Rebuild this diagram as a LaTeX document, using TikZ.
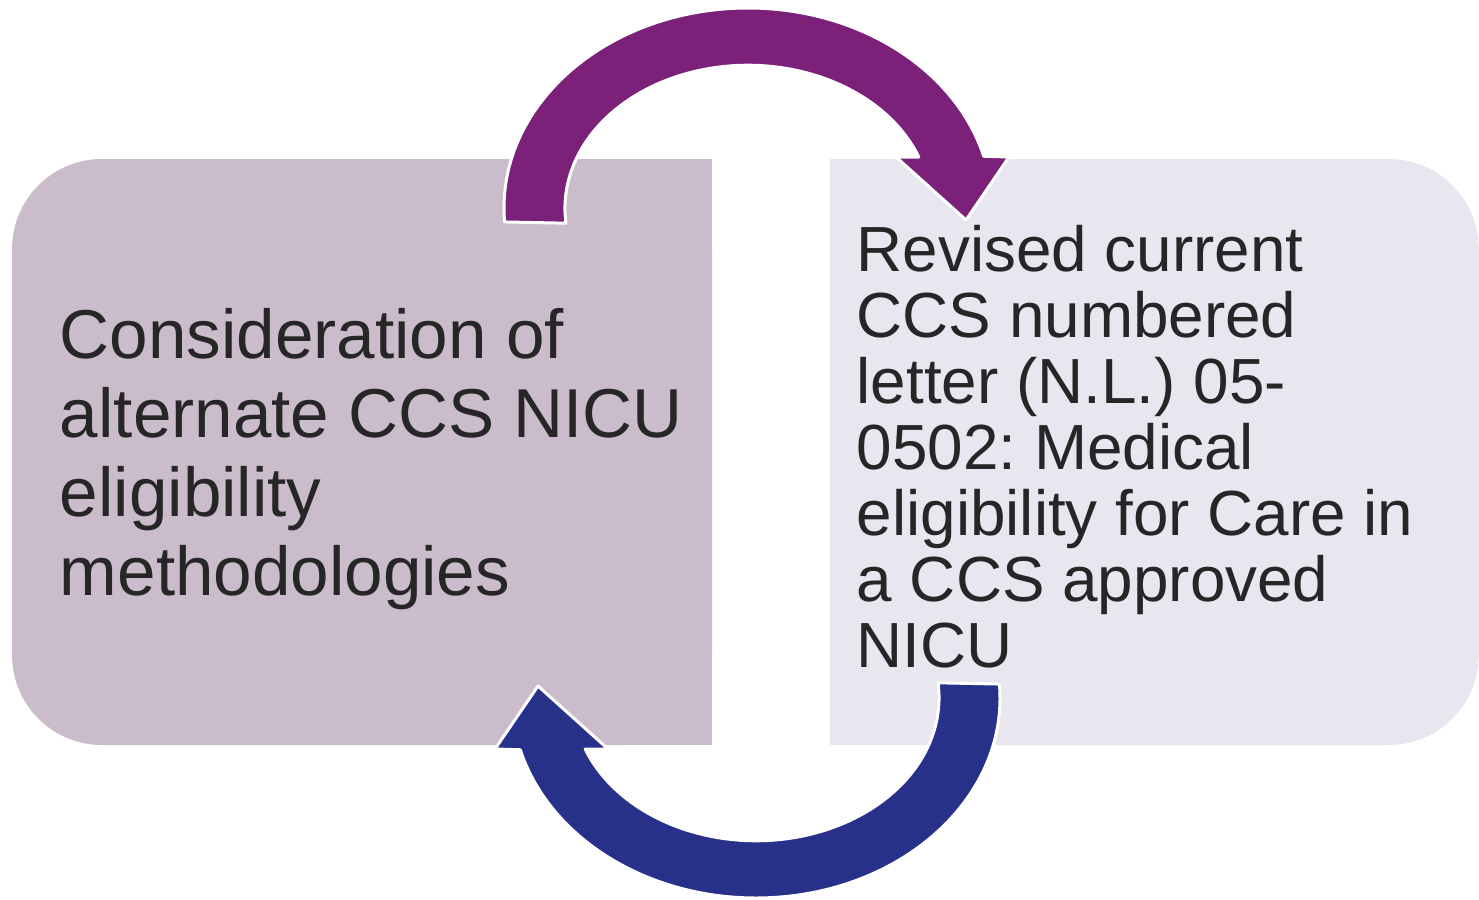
\documentclass[tikz,border=0pt]{standalone}
\usepackage{fontspec}
\setmainfont{Liberation Sans}
\usetikzlibrary{positioning}
\frenchspacing

\definecolor{purp}{HTML}{7B2179}
\definecolor{blu}{HTML}{283189}
\definecolor{mauve}{HTML}{CABCCB}
\definecolor{lilac}{HTML}{E8E6EE}
\definecolor{ink}{HTML}{262626}

\begin{document}
\begin{tikzpicture}[x=0.5pt, y=-0.5pt, inner sep=0pt,
    card/.style = {fill=#1, rounded corners=45pt, minimum height=293pt},
    txt/.style = {anchor=base west, align=left, text=ink},
    swoop/.style = {fill=#1, draw=white, line width=1.5pt, line join=round}]
  \useasboundingbox (0,0) rectangle (1479,900);

  % the two cards, each squared off on its inner side
  \node[card=mauve, minimum width=350pt] (cons) at (362,452) {};
  \fill[mauve] (cons.north) rectangle (cons.south east);
  \node[card=lilac, minimum width=324pt] (rev) [right=59pt of cons] {};
  \fill[lilac] (rev.north west) rectangle (rev.south);

  % base of a multi-line node sits on its last line
  \node[txt, font=\fontsize{34.6}{39.5}\selectfont] (consTxt)
    at ([xshift=24pt, yshift=-218.5pt]cons.north west)
    {Consideration of\\alternate CCS NICU\\eligibility\\methodologies};
  \node[txt, font=\fontsize{31.9}{33}\selectfont] (revTxt)
    at ([xshift=13pt, yshift=-254.5pt]rev.north west)
    {Revised current\\CCS numbered\\letter (N.L.) 05-\\0502: Medical\\eligibility for Care in\\a CCS approved\\NICU};

  % curved arrows, the lower one is the upper one turned half way round
  \foreach \turn/\col in {0/purp, 180/blu}
    \path[swoop=\col, rotate around={\turn:(752,453)}]
      (748,208) ++(176:244 and 200)
      arc[start angle=176, end angle=345, x radius=244, y radius=200]
      -- (1009,157) -- (966,220) -- (896,157) -- (918.8,157)
      arc[start angle=339, end angle=174, x radius=183, y radius=143] -- cycle;
\end{tikzpicture}
\end{document}
